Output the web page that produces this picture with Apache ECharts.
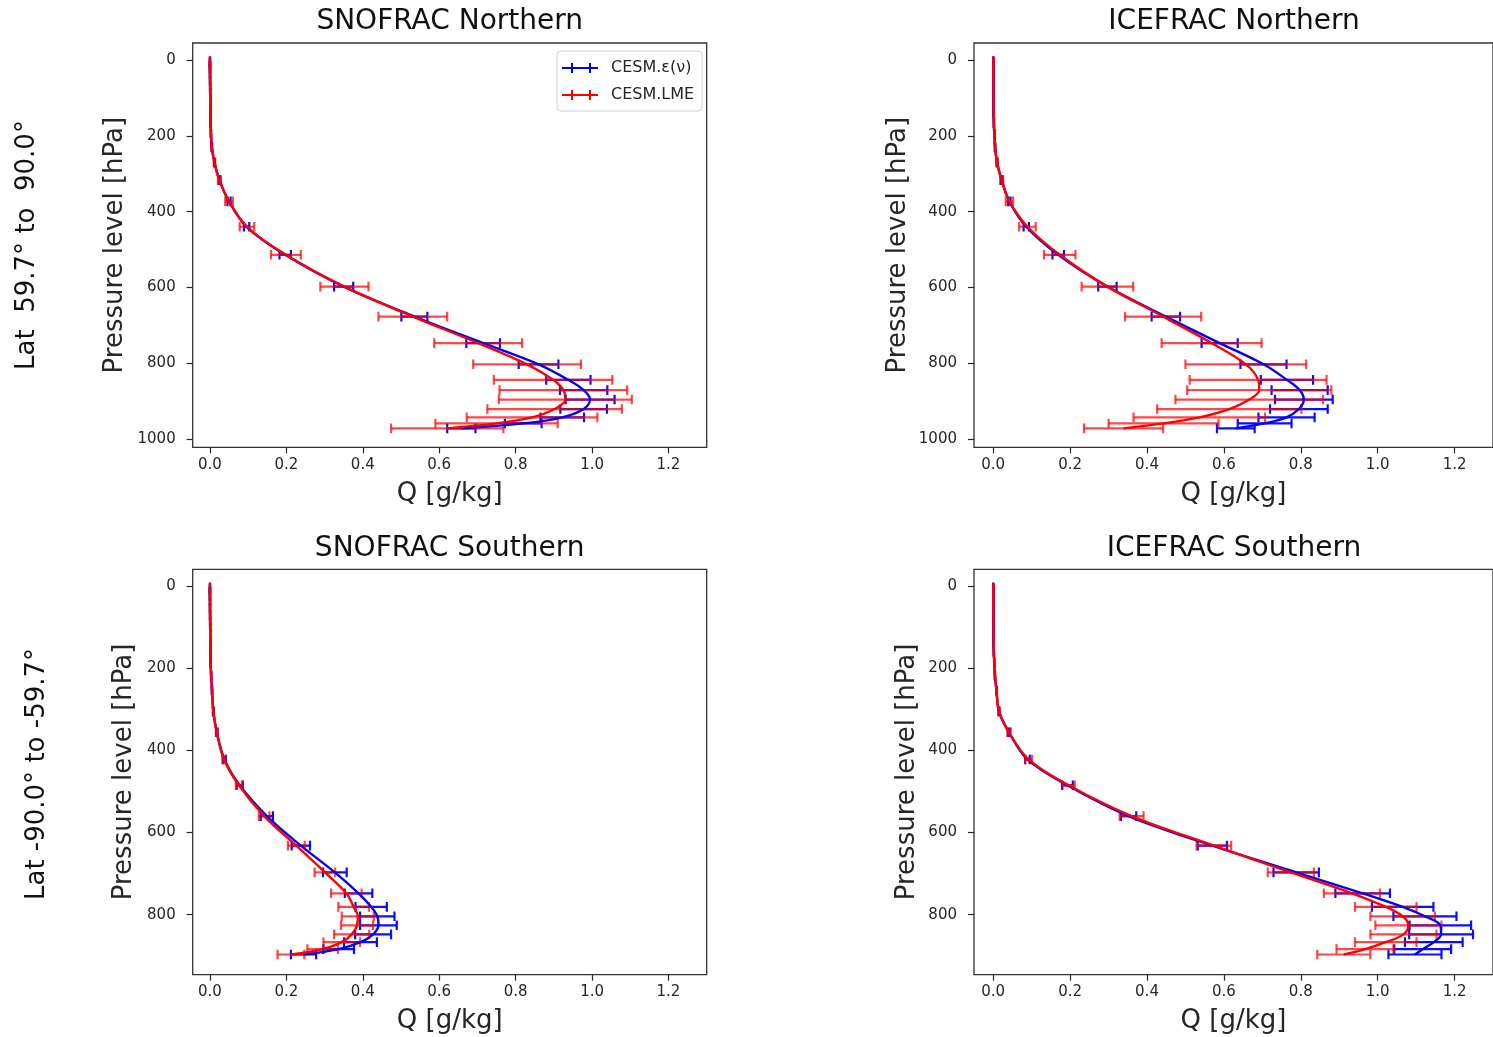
<!DOCTYPE html>
<html><head><meta charset="utf-8">
<script src="https://cdn.jsdelivr.net/npm/echarts@6/dist/echarts.min.js"></script>
<style>html,body{margin:0;padding:0;background:#fff}#c{width:1493px;height:1037px}</style>
</head><body><div id="c"></div>
<script>
// ---- pressure levels [hPa] ----
const levelsNorth = [3.6, 7.5, 14.2, 24.3, 37.8, 53.9, 71.1, 86.7, 102.0, 120.0, 141.1, 166.0, 195.3, 229.7, 270.3,
  317, 373, 440, 514, 598, 677, 747, 803, 844, 871, 896, 921, 943, 959, 972];
const levelsSouth = [3.6, 7.5, 14.2, 24.2, 37.5, 53.3, 70.0, 85.1, 99.7, 116.8, 136.6, 159.7, 186.5, 217.7, 254.0,
  305, 356, 422, 485, 560, 632, 697, 748, 781, 804, 826, 848, 867, 884, 897];

// ---- SNOFRAC Northern ----
const snoNorthNu = [0.0002,0.0002,0.0002,0.0003,0.0003,0.0004,0.0005,0.0006,0.0008,0.0010,0.0013,0.0018,0.0028,0.0050,0.0120,
  0.025,0.050,0.096,0.197,0.350,0.535,0.715,0.860,0.938,0.978,0.995,0.978,0.922,0.820,0.658];
const snoNorthNuErr = [0,0,0,0,0,0,0,0,0,0.0001,0.0001,0.0002,0.0003,0.0005,0.001,
  0.002,0.004,0.007,0.015,0.025,0.034,0.044,0.052,0.058,0.062,0.064,0.061,0.057,0.048,0.037];
const snoNorthLme = [0.0002,0.0002,0.0002,0.0003,0.0003,0.0004,0.0005,0.0006,0.0008,0.0010,0.0013,0.0018,0.0028,0.0050,0.0120,
  0.025,0.050,0.097,0.199,0.352,0.531,0.702,0.830,0.898,0.925,0.930,0.902,0.843,0.750,0.621];
const snoNorthLmeErr = [0,0,0,0,0,0,0,0,0.0001,0.0001,0.0002,0.0003,0.0005,0.001,0.002,
  0.004,0.010,0.019,0.039,0.063,0.090,0.115,0.141,0.155,0.167,0.174,0.176,0.171,0.160,0.147];

// ---- ICEFRAC Northern ----
const iceNorthNu = [0.0002,0.0002,0.0002,0.0003,0.0003,0.0004,0.0005,0.0006,0.0008,0.0010,0.0013,0.0018,0.0027,0.0048,0.0100,
  0.022,0.042,0.086,0.169,0.297,0.449,0.589,0.703,0.764,0.797,0.808,0.795,0.763,0.706,0.631];
const iceNorthNuErr = [0,0,0,0,0,0,0,0,0,0.0001,0.0001,0.0002,0.0003,0.0005,0.001,
  0.002,0.003,0.007,0.015,0.024,0.037,0.047,0.060,0.068,0.073,0.075,0.075,0.073,0.070,0.049];
const iceNorthLme = [0.0002,0.0002,0.0002,0.0003,0.0003,0.0004,0.0005,0.0006,0.0008,0.0010,0.0013,0.0018,0.0027,0.0048,0.0100,
  0.022,0.042,0.089,0.173,0.297,0.442,0.568,0.657,0.689,0.692,0.666,0.614,0.536,0.443,0.339];
const iceNorthLmeErr = [0,0,0,0,0,0,0,0,0.0001,0.0001,0.0002,0.0003,0.0005,0.001,0.002,
  0.004,0.0095,0.0216,0.041,0.067,0.099,0.130,0.157,0.178,0.1875,0.192,0.1875,0.171,0.143,0.103];

// ---- SNOFRAC Southern ----
const snoSouthNu = [0.0002,0.0002,0.0002,0.0002,0.0003,0.0003,0.0004,0.0005,0.0006,0.0008,0.0010,0.0014,0.0020,0.0032,0.0055,
  0.009,0.018,0.038,0.078,0.149,0.238,0.327,0.389,0.422,0.438,0.441,0.427,0.394,0.337,0.245];
const snoSouthNuErr = [0,0,0,0,0,0,0,0,0,0,0.0001,0.0001,0.0002,0.0003,0.0005,
  0.001,0.002,0.004,0.008,0.016,0.024,0.031,0.036,0.041,0.045,0.048,0.047,0.043,0.040,0.033];
const snoSouthLme = [0.0002,0.0002,0.0002,0.0002,0.0003,0.0003,0.0004,0.0005,0.0006,0.0008,0.0010,0.0014,0.0020,0.0032,0.0055,
  0.009,0.018,0.037,0.076,0.142,0.226,0.301,0.357,0.376,0.387,0.385,0.371,0.345,0.295,0.212];
const snoSouthLmeErr = [0,0,0,0,0,0,0,0,0,0,0.0001,0.0001,0.0002,0.0003,0.0005,
  0.001,0.002,0.004,0.008,0.014,0.022,0.027,0.040,0.040,0.042,0.042,0.046,0.048,0.040,0.035];

// ---- ICEFRAC Southern ----
const iceSouthNu = [0.0002,0.0002,0.0002,0.0002,0.0003,0.0003,0.0004,0.0005,0.0006,0.0008,0.0011,0.0017,0.0025,0.0045,0.0085,
  0.015,0.041,0.089,0.193,0.352,0.570,0.788,0.961,1.065,1.123,1.163,1.165,1.146,1.117,1.097];
const iceSouthNuErr = [0,0,0,0,0,0,0,0,0,0,0.0001,0.0001,0.0002,0.0003,0.0006,
  0.001,0.003,0.006,0.014,0.020,0.038,0.059,0.071,0.080,0.082,0.080,0.083,0.075,0.074,0.069];
const iceSouthLme = [0.0002,0.0002,0.0002,0.0002,0.0003,0.0003,0.0004,0.0005,0.0006,0.0008,0.0011,0.0017,0.0025,0.0045,0.0085,
  0.015,0.041,0.092,0.196,0.360,0.574,0.774,0.933,1.021,1.065,1.080,1.067,1.021,0.967,0.912];
const iceSouthLmeErr = [0,0,0,0,0,0,0,0,0,0,0.0001,0.0001,0.0002,0.0003,0.0006,
  0.002,0.004,0.009,0.016,0.031,0.045,0.060,0.073,0.080,0.084,0.086,0.086,0.080,0.074,0.069];

// ---- tick labels ----
const xTicks = [0.0, 0.2, 0.4, 0.6, 0.8, 1.0, 1.2];
const yTicksNorth = [0, 200, 400, 600, 800, 1000];
const yTicksSouth = [0, 200, 400, 600, 800];

const titles = ['SNOFRAC Northern', 'ICEFRAC Northern', 'SNOFRAC Southern', 'ICEFRAC Southern'];
const rowLabels = ['Lat  59.7° to  90.0°', 'Lat -90.0° to -59.7°'];
const seriesNames = ['CESM.ε(ν)', 'CESM.LME'];

const FONT = 'DejaVu Sans';
const INK = '#262626';

const panels = [
  {lev: levelsNorth, nu: snoNorthNu, nuE: snoNorthNuErr, lme: snoNorthLme, lmeE: snoNorthLmeErr,
   grid: {left: 192.7, top: 43, width: 514, height: 404.3}, xmin: -0.045, xmax: 1.3, ymin: -45, ymax: 1022, yt: yTicksNorth, ygap: 64},
  {lev: levelsNorth, nu: iceNorthNu, nuE: iceNorthNuErr, lme: iceNorthLme, lmeE: iceNorthLmeErr,
   grid: {left: 974, top: 43, width: 522, height: 404.3}, xmin: -0.05, xmax: 1.3, ymin: -45, ymax: 1022, yt: yTicksNorth, ygap: 63},
  {lev: levelsSouth, nu: snoSouthNu, nuE: snoSouthNuErr, lme: snoSouthLme, lmeE: snoSouthLmeErr,
   grid: {left: 192.7, top: 569.3, width: 514, height: 405.3}, xmin: -0.045, xmax: 1.3, ymin: -41, ymax: 946, yt: yTicksSouth, ygap: 55},
  {lev: levelsSouth, nu: iceSouthNu, nuE: iceSouthNuErr, lme: iceSouthLme, lmeE: iceSouthLmeErr,
   grid: {left: 974, top: 569.3, width: 522, height: 405.3}, xmin: -0.05, xmax: 1.3, ymin: -41, ymax: 946, yt: yTicksSouth, ygap: 54}
];

function errRender(color, width) {
  return function (params, api) {
    const p = api.value(0), lo = api.value(1), hi = api.value(2);
    const a = api.coord([lo, p]), b = api.coord([hi, p]);
    const h = 4.8;
    const style = {stroke: color, lineWidth: width, fill: null};
    return {type: 'group', children: [
      {type: 'line', shape: {x1: a[0], y1: a[1], x2: b[0], y2: b[1]}, style: style},
      {type: 'line', shape: {x1: a[0], y1: a[1] - h, x2: a[0], y2: a[1] + h}, style: style},
      {type: 'line', shape: {x1: b[0], y1: b[1] - h, x2: b[0], y2: b[1] + h}, style: style}
    ]};
  };
}

const grids = [], xAxes = [], yAxes = [], series = [], graphics = [];
panels.forEach(function (pn, i) {
  grids.push(Object.assign({show: true, borderColor: '#333', borderWidth: 1.3, backgroundColor: 'transparent'}, pn.grid));
  xAxes.push({
    type: 'value', gridIndex: i, min: pn.xmin, max: pn.xmax, position: 'bottom',
    axisLine: {show: false, onZero: false}, splitLine: {show: false},
    axisTick: {show: true, length: 6, lineStyle: {color: INK, width: 1.2}, customValues: xTicks},
    axisLabel: {customValues: xTicks, formatter: function (v) { return v.toFixed(1); },
      fontFamily: FONT, fontSize: 15, color: INK, margin: 10},
    name: 'Q [g/kg]', nameLocation: 'middle', nameGap: 34,
    nameTextStyle: {fontFamily: FONT, fontSize: 26, color: INK}
  });
  yAxes.push({
    type: 'value', gridIndex: i, min: pn.ymin, max: pn.ymax, inverse: true, position: 'left',
    axisLine: {show: false, onZero: false}, splitLine: {show: false},
    axisTick: {show: true, length: 6, lineStyle: {color: INK, width: 1.2}, customValues: pn.yt},
    axisLabel: {customValues: pn.yt, formatter: function (v) { return String(v); },
      fontFamily: FONT, fontSize: 15, color: INK, margin: 17},
    name: 'Pressure level [hPa]', nameLocation: 'middle', nameGap: pn.ygap, nameRotate: 90,
    nameTextStyle: {fontFamily: FONT, fontSize: 26, color: INK}
  });
  const sets = [
    {name: seriesNames[0], v: pn.nu, e: pn.nuE, line: '#0000ff', bar: 'rgba(0,0,255,0.95)'},
    {name: seriesNames[1], v: pn.lme, e: pn.lmeE, line: '#ff0000', bar: 'rgba(255,0,0,0.72)'}
  ];
  sets.forEach(function (s) {
    series.push({
      type: 'custom', name: s.name, xAxisIndex: i, yAxisIndex: i,
      renderItem: errRender(s.bar, 2.2),
      encode: {x: [1, 2], y: 0},
      data: pn.lev.map(function (p, k) { return [p, s.v[k] - s.e[k], s.v[k] + s.e[k]]; }),
      silent: true, clip: true
    });
    series.push({
      type: 'line', name: s.name, xAxisIndex: i, yAxisIndex: i,
      data: pn.lev.map(function (p, k) { return [s.v[k], p]; }),
      showSymbol: false, symbol: 'none', smooth: 0.35,
      lineStyle: {color: s.line, width: 2.4}, itemStyle: {color: s.line},
      clip: true
    });
  });
  const g = pn.grid;
  graphics.push({type: 'text', x: g.left + g.width / 2 - (i % 2 ? 1 : 0), y: g.top - 21,
    style: {text: titles[i], font: '28px "' + FONT + '"', fill: '#111', textAlign: 'center', textVerticalAlign: 'middle'}});
});

graphics.push({type: 'text', x: 27, y: 245, rotation: Math.PI / 2,
  style: {text: rowLabels[0], font: '26px "' + FONT + '"', fill: '#111', textAlign: 'center', textVerticalAlign: 'middle'}});
graphics.push({type: 'text', x: 37, y: 774, rotation: Math.PI / 2,
  style: {text: rowLabels[1], font: '26px "' + FONT + '"', fill: '#111', textAlign: 'center', textVerticalAlign: 'middle'}});

const chart = echarts.init(document.getElementById('c'), null, {renderer: 'canvas'});
chart.setOption({
  backgroundColor: '#fff',
  animation: false,
  grid: grids, xAxis: xAxes, yAxis: yAxes, series: series,
  graphic: graphics,
  legend: {
    data: [
      {name: seriesNames[0], icon: 'path://M0,4h36v2H0z M9,0h2v10H9z M27,0h2v10H27z', itemStyle: {color: '#0000ff'}},
      {name: seriesNames[1], icon: 'path://M0,4h36v2H0z M9,0h2v10H9z M27,0h2v10H27z', itemStyle: {color: '#ff0000'}}
    ],
    orient: 'vertical', left: 557, top: 51,
    itemWidth: 36, itemHeight: 10, itemGap: 11,
    padding: [9, 8, 8, 5],
    borderColor: '#d0d0d0', borderWidth: 1, borderRadius: 4, backgroundColor: 'rgba(255,255,255,0.85)',
    textStyle: {fontFamily: FONT, fontSize: 16, color: INK, padding: [0, 0, 0, 8]},
    selectedMode: false
  }
});
</script></body></html>
